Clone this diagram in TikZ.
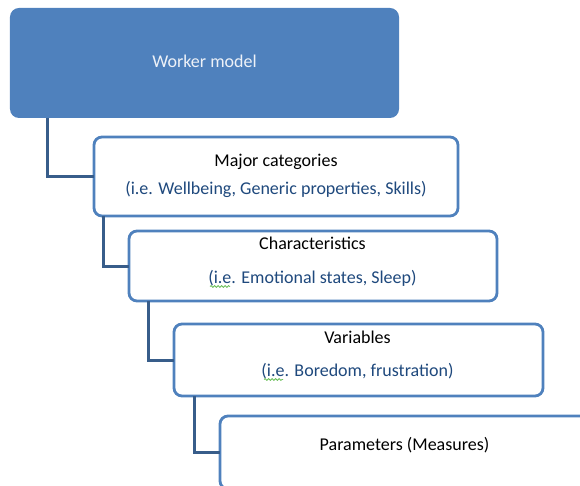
\documentclass[tikz,border=0pt]{standalone}
\usepackage{fontspec}
\setmainfont{Carlito}
\usetikzlibrary{decorations.pathmorphing}
\definecolor{accent}{HTML}{4F81BD}
\definecolor{linkblue}{HTML}{385D8A}
\definecolor{navytext}{HTML}{1F497D}
\definecolor{paletext}{HTML}{EEF2F8}
\definecolor{squiggle}{HTML}{6CBF5A}

\begin{document}
\begin{tikzpicture}[x=1bp,y=-1bp,
  topbox/.style={fill=accent, rounded corners=9bp, inner sep=0, outer sep=0},
  levelbox/.style={draw=accent, fill=white, line width=2.8bp, rounded corners=8bp, inner sep=0, outer sep=0},
  conn/.style={draw=linkblue, line width=3bp},
  head/.style={anchor=base, text=black, font=\fontsize{18bp}{22bp}\selectfont, inner sep=0},
  example/.style={anchor=base, text=navytext, font=\fontsize{18bp}{22bp}\selectfont, inner sep=0},
  spell/.style={draw=squiggle, line width=0.8bp, decorate, decoration={snake, amplitude=0.9bp, segment length=3.5bp}}
]
\useasboundingbox (0,0) rectangle (580,486);
\begin{scope}
\clip (0,0) rectangle (580,486);

% hierarchy boxes
\node[topbox, minimum width=389bp, minimum height=110bp] (wm) at (204.5,63) {};
\node[levelbox, minimum width=364bp, minimum height=79bp] (mc) at (276,176.5) {};
\node[levelbox, minimum width=368bp, minimum height=70bp] (ch) at (313,266) {};
\node[levelbox, minimum width=369bp, minimum height=72bp] (va) at (358.5,360) {};
\node[levelbox, minimum width=369bp, minimum height=73bp] (pa) at (404.5,452.5) {};

% elbow connectors from each level to the next
\draw[conn] ([xshift=38bp]wm.south west) |- (mc.west);
\draw[conn] ([xshift=10bp]mc.south west) |- (ch.west);
\draw[conn] ([xshift=19bp]ch.south west) |- (va.west);
\draw[conn] ([xshift=20bp]va.south west) |- (pa.west);

% labels
\node[head, text=paletext] (wmt) at (204.5,68) {Worker model};
\node[head] (mch) at (276,167) {Major categories};
\node[example] (mcx) at (276,195) {(i.e. Wellbeing, Generic properties, Skills)};
\node[head] (chh) at (312.5,249) {Characteristics};
\node[example] (chx) at (312.5,283) {(i.e. Emotional states, Sleep)};
\node[head] (vah) at (357.5,343) {Variables};
\node[example] (vax) at (357.5,376) {(i.e. Boredom, frustration)};
\node[head] (pah) at (404.5,450) {Parameters (Measures)};

% proofing marks under the abbreviation
\draw[spell] (210,286.5) -- (230,286.5);
\draw[spell] (264,379.5) -- (283,379.5);
\end{scope}
\end{tikzpicture}
\end{document}
